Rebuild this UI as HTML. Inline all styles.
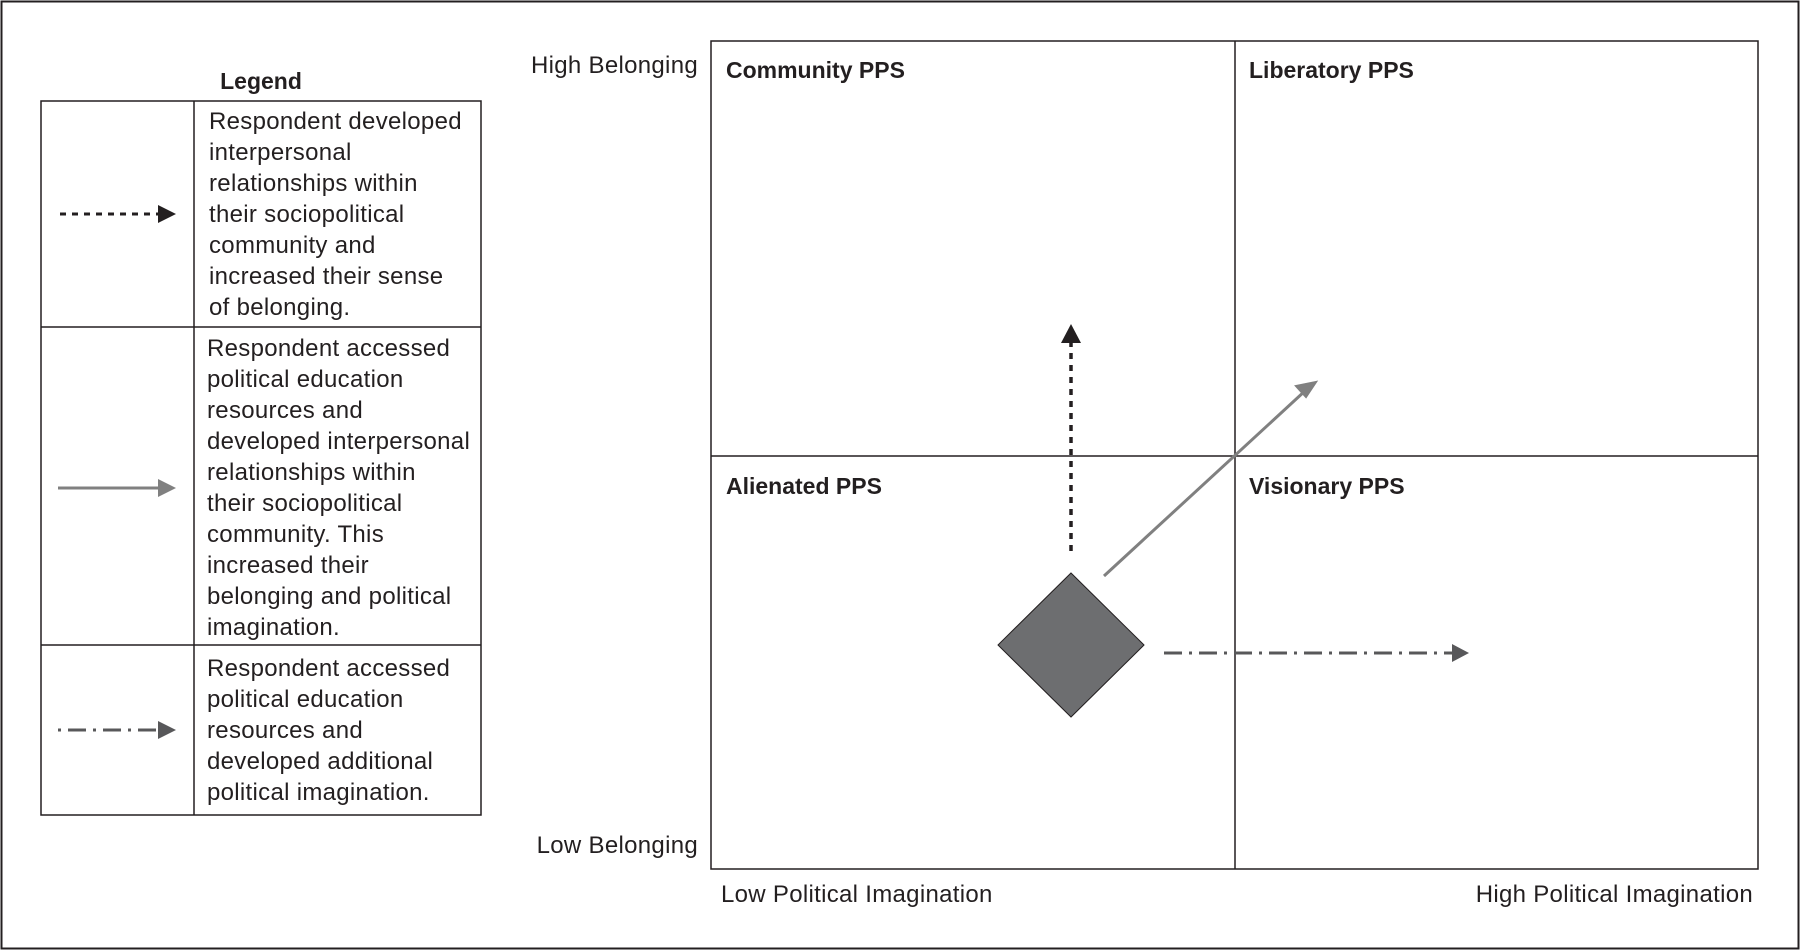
<!DOCTYPE html>
<html><head><meta charset="utf-8"><style>
html,body{margin:0;padding:0;background:#fff;}
svg{display:block;}
text{font-family:"Liberation Sans",sans-serif;fill:#231f20;}
.t{font-size:24px;letter-spacing:0.3px;}
.b{font-size:23px;font-weight:bold;}
</style></head><body>
<svg width="1800" height="951" viewBox="0 0 1800 951" xmlns="http://www.w3.org/2000/svg">
<rect x="1.5" y="1.5" width="1797" height="947" fill="none" stroke="#231f20" stroke-width="2"/>
<!-- Legend -->
<text x="261" y="89" class="b" text-anchor="middle">Legend</text>
<rect x="41" y="101" width="440" height="714" fill="none" stroke="#231f20" stroke-width="1.5"/>
<line x1="194" y1="101" x2="194" y2="815" stroke="#231f20" stroke-width="1.5"/>
<line x1="41" y1="327" x2="481" y2="327" stroke="#231f20" stroke-width="1.5"/>
<line x1="41" y1="645" x2="481" y2="645" stroke="#231f20" stroke-width="1.5"/>
<text x="209" y="129" class="t">Respondent developed</text>
<text x="209" y="160" class="t">interpersonal</text>
<text x="209" y="191" class="t">relationships within</text>
<text x="209" y="222" class="t">their sociopolitical</text>
<text x="209" y="253" class="t">community and</text>
<text x="209" y="284" class="t">increased their sense</text>
<text x="209" y="315" class="t">of belonging.</text>
<text x="207" y="356" class="t">Respondent accessed</text>
<text x="207" y="387" class="t">political education</text>
<text x="207" y="418" class="t">resources and</text>
<text x="207" y="449" class="t">developed interpersonal</text>
<text x="207" y="480" class="t">relationships within</text>
<text x="207" y="511" class="t">their sociopolitical</text>
<text x="207" y="542" class="t">community. This</text>
<text x="207" y="573" class="t">increased their</text>
<text x="207" y="604" class="t">belonging and political</text>
<text x="207" y="635" class="t">imagination.</text>
<text x="207" y="676" class="t">Respondent accessed</text>
<text x="207" y="707" class="t">political education</text>
<text x="207" y="738" class="t">resources and</text>
<text x="207" y="769" class="t">developed additional</text>
<text x="207" y="800" class="t">political imagination.</text>
<!-- legend arrows -->
<line x1="60" y1="214" x2="160" y2="214" stroke="#231f20" stroke-width="3" stroke-dasharray="6,6"/>
<path d="M158,205L176,214L158,223z" fill="#231f20"/>
<line x1="58" y1="488" x2="160" y2="488" stroke="#808080" stroke-width="3"/>
<path d="M158,479L176,488L158,497z" fill="#808080"/>
<line x1="58" y1="730" x2="160" y2="730" stroke="#58585a" stroke-width="3" stroke-dasharray="3,7,18,7"/>
<path d="M158,721L176,730L158,739z" fill="#58585a"/>
<!-- Quadrant -->
<rect x="711" y="41" width="1047" height="828" fill="none" stroke="#231f20" stroke-width="1.5"/>
<line x1="1235" y1="41" x2="1235" y2="869" stroke="#231f20" stroke-width="1.5"/>
<line x1="711" y1="456" x2="1758" y2="456" stroke="#231f20" stroke-width="1.5"/>
<text x="698" y="73" class="t" text-anchor="end">High Belonging</text>
<text x="698" y="853" class="t" text-anchor="end">Low Belonging</text>
<text x="721" y="902" class="t">Low Political Imagination</text>
<text x="1753" y="902" class="t" text-anchor="end">High Political Imagination</text>
<text x="726" y="78" class="b">Community PPS</text>
<text x="1249" y="78" class="b">Liberatory PPS</text>
<text x="726" y="494" class="b">Alienated PPS</text>
<text x="1249" y="494" class="b">Visionary PPS</text>
<!-- diamond -->
<path d="M1071,573L1144,645L1071,717L998,645z" fill="#6d6e70" stroke="#231f20" stroke-width="1"/>
<!-- dotted up -->
<line x1="1071" y1="551" x2="1071" y2="340" stroke="#231f20" stroke-width="3.5" stroke-dasharray="6,6"/>
<path d="M1061,343L1071,324L1081,343z" fill="#231f20"/>
<!-- gray diagonal -->
<line x1="1104" y1="576" x2="1306" y2="390" stroke="#808080" stroke-width="3"/>
<path d="M1316,382L1296,386L1306,397z" fill="#808080" stroke="#808080" stroke-width="2"/>
<!-- dash-dot -->
<line x1="1164" y1="653" x2="1455" y2="653" stroke="#58585a" stroke-width="3" stroke-dasharray="18,7,3,7"/>
<path d="M1452,644L1469,653L1452,662z" fill="#58585a"/>
</svg>
</body></html>
